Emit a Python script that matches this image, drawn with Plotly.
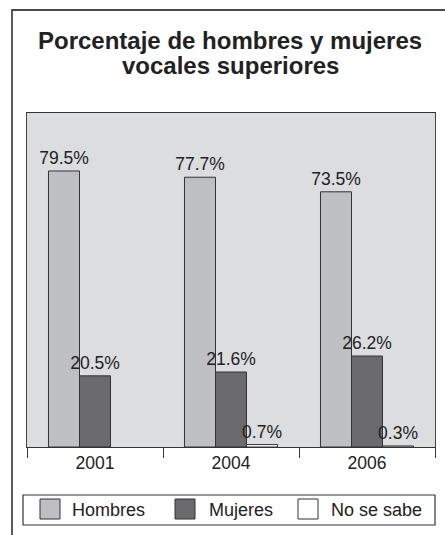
import plotly.graph_objects as go

# Data
years = ["2001", "2004", "2006"]
hombres = [79.5, 77.7, 73.5]
mujeres = [20.5, 21.6, 26.2]
no_se_sabe = [None, 0.7, 0.3]

series_names = ["Hombres", "Mujeres", "No se sabe"]
series_values = [hombres, mujeres, no_se_sabe]
series_colors = ["#bebfc2", "#6b6b6d", "#ffffff"]

title_lines = ["Porcentaje de hombres y mujeres", "vocales superiores"]

W, H = 445, 535
L, R, T, B = 27, 10, 113, 88
pw, ph = W - L - R, H - T - B


def px_x(p):
    return (p - L) / pw


def px_y(p):
    return (H - B - p) / ph


def fmt(v):
    return "" if v is None else f"{v:.1f}%"


FONT = "Liberation Sans, Arial, sans-serif"

fig = go.Figure()
for name, vals, col in zip(series_names, series_values, series_colors):
    fig.add_trace(go.Bar(
        x=years, y=vals, name=name,
        marker=dict(color=col, line=dict(color="#333333", width=1)),
        text=[fmt(v) for v in vals], textposition="outside",
        constraintext="none",
        textfont=dict(family=FONT, size=17.5, color="#222222"),
        cliponaxis=False, showlegend=False,
    ))

# outer frame: left edge and top edge as one open path
frame_path = (f"M {px_x(12):.5f},{px_y(545):.5f} "
              f"L {px_x(12):.5f},{px_y(10):.5f} "
              f"L {px_x(460):.5f},{px_y(10):.5f}")

shapes = [
    dict(type="path", xref="paper", yref="paper", path=frame_path,
         line=dict(color="#4a4a4a", width=1.8), fillcolor="rgba(0,0,0,0)"),
    # legend box
    dict(type="rect", xref="paper", yref="paper",
         x0=px_x(23), x1=px_x(435), y0=px_y(495), y1=px_y(525),
         line=dict(color="#333333", width=1.2), fillcolor="white"),
]
annotations = []

# two-line bold title
for line, base in zip(title_lines, (51, 76)):
    annotations.append(dict(xref="paper", yref="paper", x=px_x(230), y=px_y(base + 5),
                            xanchor="center", yanchor="bottom", showarrow=False,
                            text=f"<b>{line}</b>",
                            font=dict(family=FONT, size=24, color="#222222")))

legend_items = [(40, 70), (175, 207), (298, 329)]
for (sx, tx), name, col in zip(legend_items, series_names, series_colors):
    shapes.append(dict(type="rect", xref="paper", yref="paper",
                       x0=px_x(sx), x1=px_x(sx + 20), y0=px_y(499), y1=px_y(519),
                       line=dict(color="#333333", width=1), fillcolor=col))
    annotations.append(dict(xref="paper", yref="paper", x=px_x(tx), y=px_y(510),
                            xanchor="left", yanchor="middle", showarrow=False,
                            text=name, font=dict(family=FONT, size=18, color="#222222")))

fig.update_layout(
    width=W, height=H,
    margin=dict(l=L, r=R, t=T, b=B),
    paper_bgcolor="white", plot_bgcolor="#dcdddf",
    barmode="group", bargap=0.316, bargroupgap=0,
    xaxis=dict(type="category", tickson="boundaries", ticks="outside", ticklen=10,
               tickcolor="#333333", tickwidth=1.2,
               showline=True, linecolor="#333333", linewidth=1.2, mirror=True,
               tickfont=dict(family=FONT, size=17.5, color="#222222"), showgrid=False),
    yaxis=dict(range=[0, 96.2], showticklabels=False, ticks="", showgrid=False,
               zeroline=False, showline=True, linecolor="#444444", linewidth=1.2,
               mirror=True),
    shapes=shapes, annotations=annotations,
)

fig.write_html("out.html", config={"displayModeBar": False})
